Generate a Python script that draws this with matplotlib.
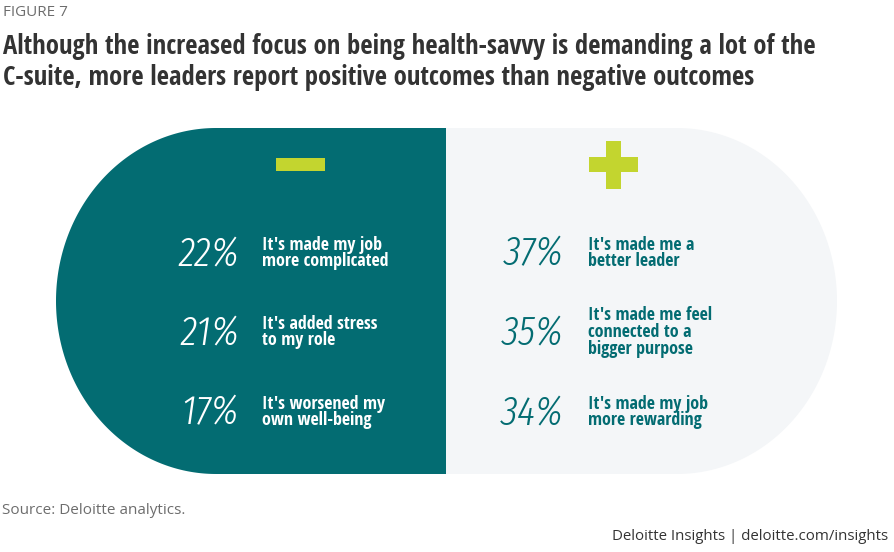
import matplotlib
matplotlib.use("Agg")
import matplotlib.pyplot as plt
import numpy as np
from matplotlib.patches import Polygon, Rectangle

TEAL = "#036c72"
LIGHT = "#f4f6f8"
LIME = "#c3d52f"

neg_values = [22, 21, 17]
neg_labels = ["It's made my job\nmore complicated",
              "It's added stress\nto my role",
              "It's worsened my\nown well-being"]
pos_values = [37, 35, 34]
pos_labels = ["It's made me a\nbetter leader",
              "It's made me feel\nconnected to a\nbigger purpose",
              "It's made my job\nmore rewarding"]

title = ("Although the increased focus on being health-savvy is demanding a lot of the\n"
         "C-suite, more leaders report positive outcomes than negative outcomes")

COND_BOLD = ["Open Sans Condensed", "DejaVu Sans"]
COND_THIN = ["Fira Sans Extra Condensed", "DejaVu Sans"]
OPEN = ["Open Sans", "DejaVu Sans"]


def half_pill(cx, a, top, bottom, x_mid, side):
    cy = (top + bottom) / 2
    b = (bottom - top) / 2
    if side == "left":
        t = np.linspace(np.pi / 2, 3 * np.pi / 2, 200)
        arc = np.column_stack([cx + a * np.cos(t), cy - b * np.sin(t)])
    else:
        t = np.linspace(-np.pi / 2, np.pi / 2, 200)
        arc = np.column_stack([cx + a * np.cos(t), cy + b * np.sin(t)])
    return np.vstack([[x_mid, top], arc, [x_mid, bottom]])


fig = plt.figure(figsize=(8.95, 5.52), dpi=100)
ax = fig.add_axes([0, 0, 1, 1])
ax.set_xlim(0, 895)
ax.set_ylim(552, 0)
ax.axis("off")

top, bottom, mid = 128, 474, 446
ax.add_patch(Polygon(half_pill(216, 160, top, bottom, mid, "left"), closed=True, fc=TEAL, ec="none"))
ax.add_patch(Polygon(half_pill(677, 160, top, bottom, mid, "right"), closed=True, fc=LIGHT, ec="none"))

# minus and plus signs
ax.add_patch(Rectangle((276, 158), 49, 13, fc=LIME, ec="none"))
ax.add_patch(Rectangle((589, 157), 49, 15, fc=LIME, ec="none"))
ax.add_patch(Rectangle((606, 141), 15, 48, fc=LIME, ec="none"))

rows = [253, 332, 412]
for y, v, lab in zip(rows, neg_values, neg_labels):
    ax.text(239, y + 1, f"{v}%", color="white", fontsize=30, family=COND_THIN,
            fontweight=300, style="italic", ha="right", va="center")
    ax.text(262, y, lab, color="white", fontsize=13, family=COND_BOLD,
            fontweight="bold", ha="left", va="center", linespacing=0.9)
for y, v, lab in zip(rows, pos_values, pos_labels):
    ax.text(564, y + 1, f"{v}%", color=TEAL, fontsize=30, family=COND_THIN,
            fontweight=300, style="italic", ha="right", va="center")
    ax.text(588, y, lab, color=TEAL, fontsize=13, family=COND_BOLD,
            fontweight="bold", ha="left", va="center", linespacing=0.9)

ax.text(3, 13, "FIGURE 7", color="#6d6d6d", fontsize=11, family=OPEN,
        ha="left", va="center")
ax.text(3, 62, title, color="#333333", fontsize=19.2, family=COND_BOLD, fontweight="bold",
        ha="left", va="center", linespacing=1.15)
ax.text(2, 510, "Source: Deloitte analytics.", color="#6d6d6d", fontsize=11,
        family=OPEN, ha="left", va="center")
ax.text(888, 536, "Deloitte Insights | deloitte.com/insights", color="#333333", fontsize=10.8,
        family=OPEN, ha="right", va="center")

fig.savefig("out.png", dpi=100)
